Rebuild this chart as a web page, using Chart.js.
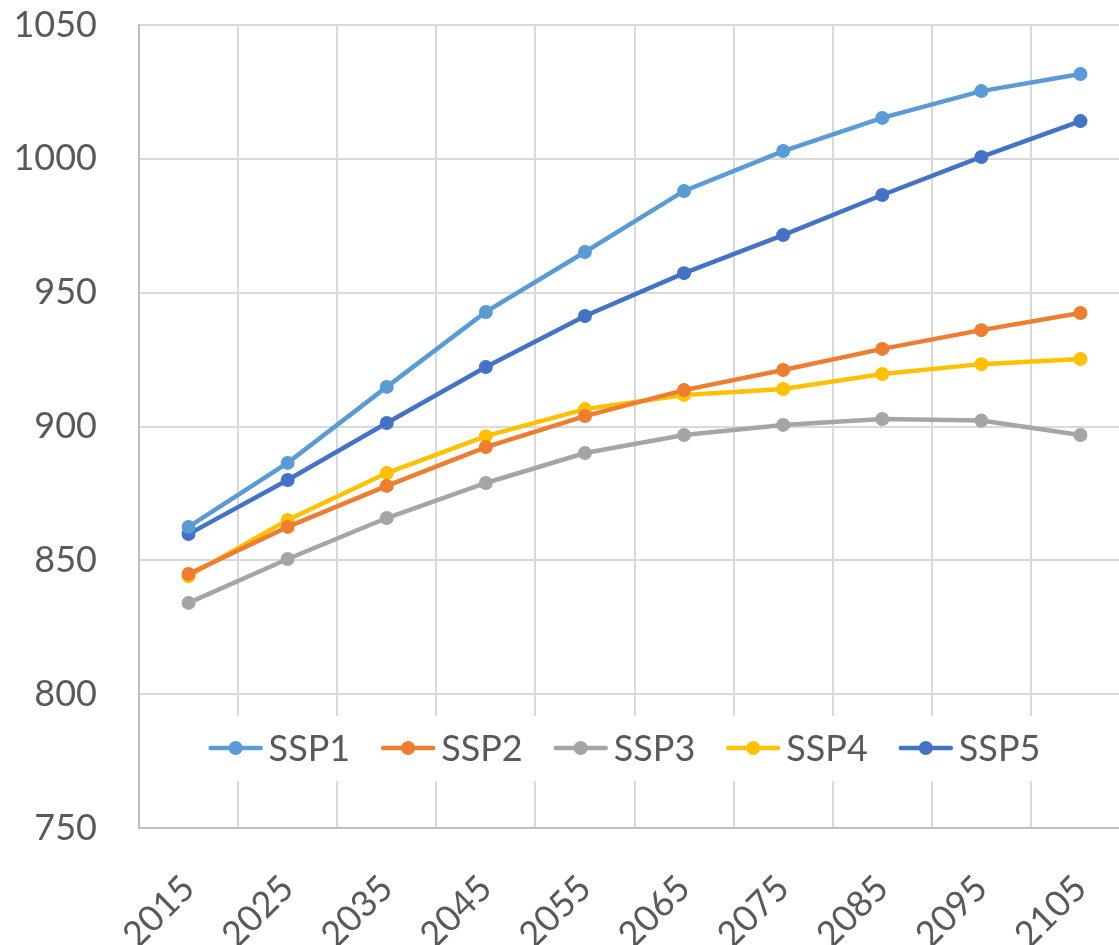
<!DOCTYPE html>
<html>
<head>
<meta charset="utf-8">
<script src="https://cdn.jsdelivr.net/npm/chart.js@4/dist/chart.umd.min.js"></script>
<style>
  html, body { margin: 0; padding: 0; background: #ffffff; }
  #frame { width: 1119px; height: 945px; overflow: hidden; position: relative; }
  #wrap { width: 1130px; height: 945px; position: relative; }
</style>
</head>
<body>
<div id="frame"><div id="wrap"><canvas id="c"></canvas></div></div>
<script>
// Years on the horizontal axis
const years = ['2015', '2025', '2035', '2045', '2055', '2065', '2075', '2085', '2095', '2105'];

// Scenario values
const ssp1 = [862.5, 886.4, 914.8, 942.8, 965.2, 988.0, 1002.9, 1015.3, 1025.3, 1031.7];
const ssp2 = [844.9, 862.5, 877.8, 892.3, 903.9, 913.6, 921.1, 929.0, 936.0, 942.4];
const ssp3 = [834.1, 850.5, 865.8, 878.9, 890.1, 896.8, 900.6, 902.8, 902.2, 896.8];
const ssp4 = [844.1, 865.1, 882.6, 896.4, 906.5, 911.8, 914.0, 919.6, 923.3, 925.2];
const ssp5 = [859.8, 880.0, 901.3, 922.2, 941.3, 957.3, 971.5, 986.5, 1000.7, 1014.1];

const seriesNames = ['SSP1', 'SSP2', 'SSP3', 'SSP4', 'SSP5'];
const seriesValues = [ssp1, ssp2, ssp3, ssp4, ssp5];
const seriesColors = ['#5B9BD5', '#ED7D31', '#A5A5A5', '#FFC000', '#4472C4'];

// Value axis range
const yMin = 750;
const yMax = 1050;
const yStep = 50;

const FONT = 'Lato, "Open Sans", sans-serif';
const TEXT_COLOR = '#595959';

// Legend drawn inside the plot, on a white band over the grid
const insideLegend = {
  id: 'insideLegend',
  afterDraw(chart) {
    const ctx = chart.ctx;
    const area = chart.chartArea;
    ctx.save();
    ctx.font = '36px ' + FONT;
    const lineLen = 54, textGap = 6, itemGap = 31;
    const items = chart.data.datasets.map(ds => ({
      label: ds.label,
      color: ds.borderColor,
      w: lineLen + textGap + ctx.measureText(ds.label).width
    }));
    const total = items.reduce((s, it) => s + it.w, 0) + itemGap * (items.length - 1);
    const cx = (area.left + area.right) / 2 - 10;
    const cy = area.bottom - 80;
    let x = cx - total / 2;
    ctx.fillStyle = '#ffffff';
    ctx.fillRect(x - 10, cy - 32, total + 20, 65);
    items.forEach(it => {
      ctx.strokeStyle = it.color;
      ctx.lineWidth = 4.5;
      ctx.lineCap = 'round';
      ctx.beginPath();
      ctx.moveTo(x + 2, cy);
      ctx.lineTo(x + lineLen - 2, cy);
      ctx.stroke();
      ctx.fillStyle = it.color;
      ctx.beginPath();
      ctx.arc(x + lineLen / 2, cy, 7, 0, Math.PI * 2);
      ctx.fill();
      ctx.fillStyle = TEXT_COLOR;
      ctx.textAlign = 'left';
      ctx.textBaseline = 'middle';
      ctx.fillText(it.label, x + lineLen + textGap, cy + 1);
      x += it.w + itemGap;
    });
    ctx.restore();
  }
};

function draw() {
  const datasets = seriesNames.map((name, i) => ({
    label: name,
    data: seriesValues[i],
    borderColor: seriesColors[i],
    backgroundColor: seriesColors[i],
    pointBackgroundColor: seriesColors[i],
    pointBorderColor: seriesColors[i],
    borderWidth: 4.5,
    pointRadius: 7,
    pointBorderWidth: 0,
    tension: 0,
    fill: false
  }));

  new Chart(document.getElementById('c'), {
    type: 'line',
    data: { labels: years, datasets },
    options: {
      responsive: true,
      maintainAspectRatio: false,
      animation: false,
      devicePixelRatio: 1,
      layout: { autoPadding: false, padding: { top: 25, right: 0, left: 0, bottom: 0 } },
      plugins: {
        legend: { display: false },
        tooltip: { enabled: false }
      },
      scales: {
        x: {
          type: 'category',
          offset: true,
          grid: { offset: true, color: '#d9d9d9', lineWidth: 2, drawTicks: false },
          border: { color: '#bfbfbf', width: 2 },
          ticks: {
            color: TEXT_COLOR,
            font: { family: FONT, size: 36 },
            maxRotation: 45,
            minRotation: 45,
            padding: 39,
            autoSkip: false
          },
          afterFit(scale) {
            scale.height = 117;
            scale.paddingLeft = 0;
            scale.paddingRight = 0;
          }
        },
        y: {
          min: yMin,
          max: yMax,
          grid: { color: '#d9d9d9', lineWidth: 2, drawTicks: false },
          border: { color: '#bfbfbf', width: 2 },
          ticks: {
            stepSize: yStep,
            color: TEXT_COLOR,
            font: { family: FONT, size: 36 },
            padding: 42,
            callback: (v) => String(v)
          },
          afterFit(scale) {
            scale.width = 139;
            scale.paddingTop = 0;
            scale.paddingBottom = 0;
          }
        }
      }
    },
    plugins: [insideLegend]
  });
}

if (document.fonts && document.fonts.load) {
  document.fonts.load('36px Lato').then(draw, draw);
} else {
  draw();
}
</script>
</body>
</html>
